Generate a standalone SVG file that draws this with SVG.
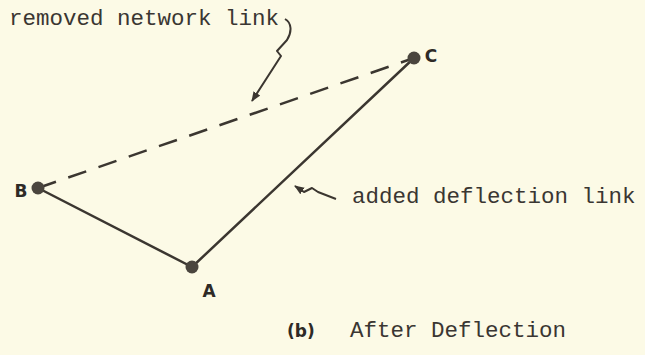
<svg xmlns="http://www.w3.org/2000/svg" width="645" height="355" viewBox="0 0 645 355">
<defs>
<style>
.bg{fill:#fcfae6}
.edge{stroke:#3b3630;stroke-width:2.5;fill:none;stroke-linecap:round}
.dash{stroke-dasharray:19 13;stroke-linecap:butt}
.lead{stroke:#3b3630;stroke-width:2;fill:none;stroke-linejoin:round}
.node{fill:#4a453e}
.lbl{font-family:"DejaVu Sans",sans-serif;font-weight:bold;font-size:17px;fill:#2e2a26}
.tw{font-family:"Liberation Mono",monospace;font-size:22.5px;fill:#3a3632}
</style>
<marker id="ah" viewBox="0 0 10 10" refX="9" refY="5" markerWidth="5" markerHeight="5" orient="auto" markerUnits="strokeWidth">
<path d="M0,1 L10,5 L0,9 Z" fill="#3b3630"/>
</marker>
</defs>
<rect class="bg" width="645" height="355"/>
<g id="connectors">
<line class="edge dash" x1="38" y1="188" x2="414" y2="58"/>
<line class="edge" x1="38" y1="188" x2="192" y2="267"/>
<line class="edge" x1="192" y1="267" x2="414" y2="58"/>
<path class="lead" d="M285,19 C292,23 292,32 287,40 L277,51 L281,56 L252,101" marker-end="url(#ah)"/>
<path class="lead" d="M336,199 L318,192 L312,188 L304,192 L295,186" marker-end="url(#ah)"/>
</g>
<g id="node-A"><circle class="node" cx="192" cy="267" r="6.5"/><text class="lbl" x="209" y="297" text-anchor="middle">A</text></g>
<g id="node-B"><circle class="node" cx="38" cy="188" r="6.5"/><text class="lbl" x="21" y="197" text-anchor="middle">B</text></g>
<g id="node-C"><circle class="node" cx="414" cy="58" r="6.5"/><text class="lbl" x="431" y="62" text-anchor="middle">C</text></g>
<g id="labels">
<text class="tw" x="9" y="25">removed network link</text>
<text class="tw" x="352" y="203">added deflection link</text>
<text class="lbl" x="287" y="337">(b)</text>
<text class="tw" x="350" y="337">After Deflection</text>
</g>
</svg>
